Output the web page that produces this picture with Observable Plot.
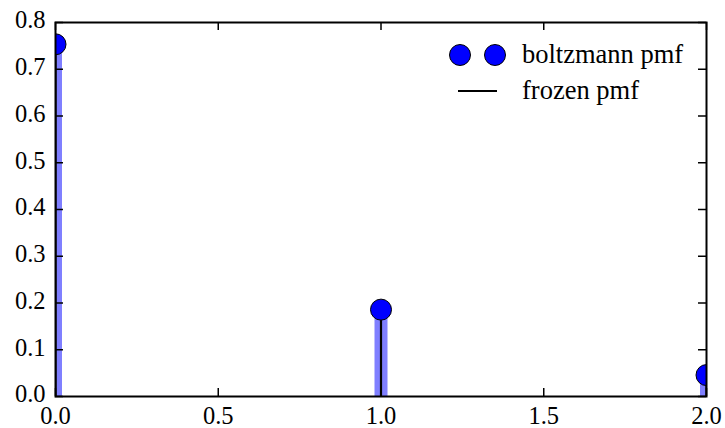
<!DOCTYPE html>
<html>
<head>
<meta charset="utf-8">
<script src="https://cdn.jsdelivr.net/npm/d3@7"></script>
<script src="https://cdn.jsdelivr.net/npm/@observablehq/plot@0.6"></script>
<style>
  html, body { margin: 0; padding: 0; background: white; }
</style>
</head>
<body>
<div id="chart"></div>
<script>
// Data (boltzmann pmf, lambda=1.4, N=19)
const ks = [0, 1, 2];
const pmfValues = [0.7534, 0.1858, 0.0458];
const xTicks = [0, 0.5, 1.0, 1.5, 2.0];
const yTicks = [0, 0.1, 0.2, 0.3, 0.4, 0.5, 0.6, 0.7, 0.8];
const legendLabels = ["boltzmann pmf", "frozen pmf"];

const data = ks.map((k, i) => ({k, p: pmfValues[i]}));

const W = 725, H = 428;
const mL = 55, mR = 19, mT = 22, mB = 32;
const plotW = W - mL - mR, plotH = H - mT - mB;
const tickLen = 8;
const fmt = d3.format(".1f");
const FONT = "'Liberation Serif', 'Times New Roman', serif";

const svg = Plot.plot({
  width: W, height: H,
  marginLeft: mL, marginRight: mR, marginTop: mT, marginBottom: mB,
  x: {domain: [0, 2], label: null},
  y: {domain: [0, 0.8], label: null},
  style: {background: "white", color: "black"},
  marks: [
    Plot.ruleX(data, {x: "k", y1: 0, y2: "p", stroke: "blue", strokeOpacity: 0.5, strokeWidth: 13, clip: true}),
    Plot.ruleX(data, {x: "k", y1: 0, y2: "p", stroke: "black", strokeWidth: 2.2, clip: true}),
    Plot.dot(data, {x: "k", y: "p", r: 10.5, fill: "blue", stroke: "black", strokeWidth: 1, clip: true}),
    // inward ticks on all four sides
    Plot.ruleX(xTicks, {x: d => d, insetTop: plotH - tickLen, stroke: "black", strokeWidth: 1.5}),
    Plot.ruleX(xTicks, {x: d => d, insetBottom: plotH - tickLen, stroke: "black", strokeWidth: 1.5}),
    Plot.ruleY(yTicks, {y: d => d, insetRight: plotW - tickLen, stroke: "black", strokeWidth: 1.5}),
    Plot.ruleY(yTicks, {y: d => d, insetLeft: plotW - tickLen, stroke: "black", strokeWidth: 1.5}),
    Plot.axisX({ticks: xTicks, anchor: "bottom", tickSize: 0, tickPadding: 10, tickFormat: fmt, label: null}),
    Plot.axisY({ticks: yTicks, anchor: "left", tickSize: 0, tickPadding: 10, dy: -2, tickFormat: fmt, label: null}),
    Plot.frame({stroke: "black", strokeWidth: 2})
  ]
});

d3.select(svg).selectAll("text")
  .style("font-family", FONT)
  .style("font-size", "24.5px")
  .style("fill", "black");

// legend (no frame), upper right inside the axes
const g = d3.select(svg).append("g").attr("class", "legend")
  .style("font-family", FONT).style("font-size", "26.5px");
[460, 495].forEach(cx => {
  g.append("circle").attr("cx", cx).attr("cy", 55).attr("r", 10.5)
    .attr("fill", "blue").attr("stroke", "black").attr("stroke-width", 1);
});
g.append("line").attr("x1", 458).attr("x2", 497).attr("y1", 91).attr("y2", 91)
  .attr("stroke", "black").attr("stroke-width", 2.2);
g.append("text").attr("x", 522).attr("y", 63).style("text-anchor", "start").style("fill", "black").text(legendLabels[0]);
g.append("text").attr("x", 522).attr("y", 99).style("text-anchor", "start").style("fill", "black").text(legendLabels[1]);

document.getElementById("chart").appendChild(svg);
</script>
</body>
</html>
